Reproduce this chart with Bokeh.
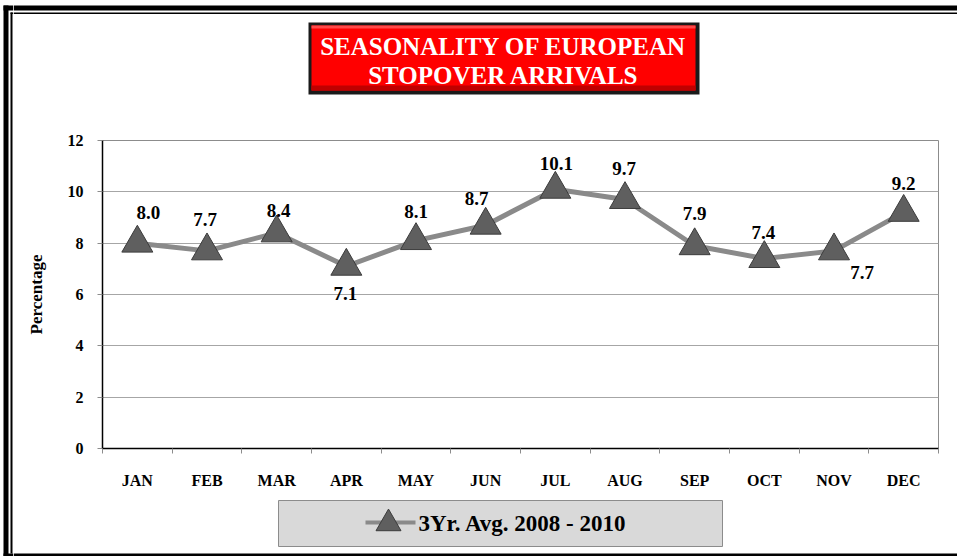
from bokeh.plotting import figure
from bokeh.models import ColumnDataSource, Range1d, LinearAxis, FixedTicker, Label
from bokeh.layouts import row, column
from bokeh.embed import file_html
from bokeh.resources import INLINE

months = ["JAN", "FEB", "MAR", "APR", "MAY", "JUN", "JUL", "AUG", "SEP", "OCT", "NOV", "DEC"]
values = [8.0, 7.7, 8.4, 7.1, 8.1, 8.7, 10.1, 9.7, 7.9, 7.4, 7.7, 9.2]
y_ticks = [0, 2, 4, 6, 8, 10, 12]
series_name = "3Yr. Avg. 2008 - 2010"
title_lines = ["SEASONALITY OF EUROPEAN", "STOPOVER ARRIVALS"]

# data-label placement (screen px offsets from each point)
lab_dx = [11, -2, 2, -1, 0, -9, 1, -1, 0, -1, 28, 0]
lab_dy = [31, 31, 22, -27, 29, 27, 26, 31, 32, 26, -22, 29]

FONT = "Liberation Serif"
LINE_C = "#8a8a8a"
MARK_C = "#5f5f5f"
MARK_L = "#3c3c3c"

W, H = 957, 556
LS_W = 13          # left strip (page frame)
TOP_H = 128        # title band
LEG_Y = 496        # legend band starts
MAIN_H = LEG_Y - TOP_H
RW = W - LS_W


def blank(w, h, x0, x1, y0, y1):
    f = figure(width=w, height=h, x_range=Range1d(x0, x1), y_range=Range1d(y1, y0),
               output_backend="svg", toolbar_location=None,
               x_axis_location=None, y_axis_location=None, min_border=0)
    f.frame_align = False
    f.grid.visible = False
    f.outline_line_color = None
    f.background_fill_color = "white"
    f.border_fill_color = "white"
    return f


def label(fig, x, y, text, size, color, align="center", dx=0, dy=0):
    fig.add_layout(Label(x=x, y=y, text=text, x_offset=dx, y_offset=dy,
                         text_align=align, text_baseline="middle",
                         text_font=FONT, text_font_style="bold",
                         text_font_size=size, text_color=color))


# ---- left strip of the page frame
ls = blank(LS_W, H, 0, LS_W, 0, H)
ls.quad(left=[3, 3, 10, 10, 3], right=[8, LS_W, 12, LS_W, LS_W],
        top=[5, 5, 12, 12, 553], bottom=[H, 10, 553, 13.5, H],
        fill_color="black", line_color=None)

# ---- title band
tf = blank(RW, TOP_H, LS_W, W, 0, TOP_H)
tf.quad(left=[LS_W, LS_W], right=[W, W], top=[5, 12], bottom=[10, 13.5],
        fill_color="black", line_color=None)
tf.quad(left=[308], right=[699], top=[22], bottom=[94], fill_color="#1a1a1a", line_color=None)
tf.quad(left=[311], right=[695], top=[25], bottom=[90], fill_color="#ff0000", line_color=None)
tf.quad(left=[311], right=[695], top=[25], bottom=[28], fill_color="#ff4a4a", line_color=None)
tf.quad(left=[311], right=[695], top=[85], bottom=[90], fill_color="#c00000", line_color=None)
for yy, line in zip([46, 75], title_lines):
    label(tf, 503, yy, line, "25px", "white")

# ---- main chart
n = len(months)
slot = [i + 0.5 for i in range(n)]  # category centres on a 0..n slot scale
src = ColumnDataSource(dict(x=slot, y=values))

p = figure(width=RW, height=MAIN_H, x_range=Range1d(0, n), y_range=Range1d(0, 12),
           output_backend="svg", toolbar_location=None, x_axis_location=None,
           min_border_left=102 - LS_W, min_border_right=W - 938,
           min_border_top=140 - TOP_H, min_border_bottom=LEG_Y - 448)
p.frame_align = False
p.background_fill_color = "white"
p.border_fill_color = "white"
p.outline_line_color = "#8c8c8c"
p.xgrid.visible = False
p.ygrid.grid_line_color = "#a6a6a6"
p.ygrid.grid_line_width = 1

ya = p.yaxis[0]
ya.ticker = FixedTicker(ticks=y_ticks)
ya.axis_line_color = "black"
ya.axis_line_width = 1.5
ya.major_tick_in = 0
ya.major_tick_out = 5
ya.major_tick_line_color = "#8c8c8c"
ya.minor_tick_line_color = None
ya.major_label_text_font = FONT
ya.major_label_text_font_style = "bold"
ya.major_label_text_font_size = "16px"
ya.major_label_text_color = "black"
ya.major_label_standoff = 14
ya.axis_label = "Percentage"
ya.axis_label_text_font = FONT
ya.axis_label_text_font_style = "bold"
ya.axis_label_text_font_size = "17px"
ya.axis_label_text_color = "black"
ya.axis_label_standoff = 19

xa = LinearAxis(ticker=FixedTicker(ticks=slot, minor_ticks=list(range(n + 1))))
xa.major_label_overrides = {c: m for c, m in zip(slot, months)}
xa.axis_line_color = "black"
xa.axis_line_width = 1.5
xa.major_tick_in = 0
xa.major_tick_out = 0
xa.minor_tick_in = 0
xa.minor_tick_out = 5
xa.minor_tick_line_color = "#8c8c8c"
xa.major_label_text_font = FONT
xa.major_label_text_font_style = "bold"
xa.major_label_text_font_size = "16px"
xa.major_label_text_color = "black"
xa.major_label_standoff = 18
p.add_layout(xa, "below")

p.line("x", "y", source=src, line_color=LINE_C, line_width=5)
p.scatter("x", "y", source=src, marker="triangle", size=31, fill_color=MARK_C,
          line_color=MARK_L, line_width=1)

for xv, yv, ddx, ddy in zip(slot, values, lab_dx, lab_dy):
    label(p, xv, yv, "%.1f" % yv, "19px", "black", dx=ddx, dy=ddy)

# ---- legend band
lf = blank(RW, H - LEG_Y, LS_W, W, LEG_Y, H)
lf.quad(left=[278], right=[722], top=[500], bottom=[546], fill_color="#d9d9d9",
        line_color="#8c8c8c", line_width=1)
lf.segment(x0=[365], y0=[522], x1=[415], y1=[522], line_color=LINE_C, line_width=4)
lf.scatter(x=[388], y=[523], marker="triangle", size=25, fill_color=MARK_C,
           line_color=MARK_L, line_width=1)
label(lf, 418, 523, series_name, "23px", "black", align="left")
lf.quad(left=[LS_W], right=[W], top=[553], bottom=[H], fill_color="black", line_color=None)

layout = row(ls, column(tf, p, lf))
open("out.html", "w").write(file_html(layout, INLINE))
